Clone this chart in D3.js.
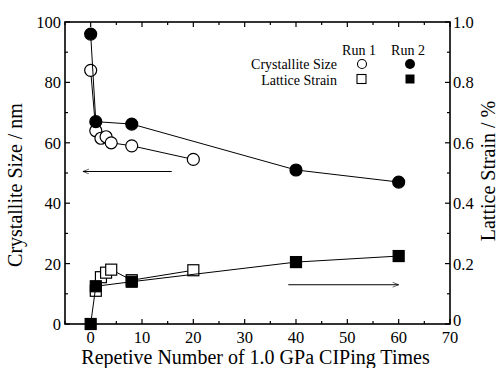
<!DOCTYPE html>
<html>
<head>
<meta charset="utf-8">
<script src="https://cdn.jsdelivr.net/npm/d3@7"></script>
<style>
  body { margin: 0; background: #fff; }
  svg, svg text { font-family: 'Liberation Serif', 'DejaVu Serif', 'Times New Roman', Times, serif !important; }
</style>
</head>
<body>
<div id="chart"></div>
<script>
// CIPing times
const run1Times = [0, 1, 2, 3, 4, 8, 20];
const run2Times = [0, 1, 8, 40, 60];

// crystallite size (nm)
const run1Size = [84, 64, 61.5, 62, 60, 59, 54.5];
const run2Size = [96, 67, 66.2, 51, 47];

// lattice strain (%)
const run1StrainTimes = [1, 2, 3, 4, 8, 20];
const run1Strain = [0.11, 0.155, 0.17, 0.18, 0.145, 0.178];
const run2Strain = [0, 0.125, 0.14, 0.205, 0.225];

const xTicks = [0, 10, 20, 30, 40, 50, 60, 70];
const sizeTicks = [0, 20, 40, 60, 80, 100];
const strainTicks = [0, 0.2, 0.4, 0.6, 0.8, 1.0];

const width = 500, height = 368;
const margin = { left: 65, right: 50, top: 22, bottom: 44 };

const svg = d3.select('#chart').append('svg')
  .attr('width', width)
  .attr('height', height);

const x = d3.scaleLinear().domain([-5, 70]).range([margin.left, width - margin.right]);
const yL = d3.scaleLinear().domain([0, 100]).range([height - margin.bottom, margin.top]);
const yR = d3.scaleLinear().domain([0, 1]).range([height - margin.bottom, margin.top]);

const x0 = margin.left, x1 = width - margin.right;
const y0 = height - margin.bottom, y1 = margin.top;

// inward ticks
function ticks(g, scale, values, len, orient) {
  values.forEach(v => {
    const p = scale(v);
    if (orient === 'bottom') g.append('line').attr('x1', p).attr('x2', p).attr('y1', y0).attr('y2', y0 - len);
    if (orient === 'top') g.append('line').attr('x1', p).attr('x2', p).attr('y1', y1).attr('y2', y1 + len);
    if (orient === 'left') g.append('line').attr('y1', p).attr('y2', p).attr('x1', x0).attr('x2', x0 + len);
    if (orient === 'right') g.append('line').attr('y1', p).attr('y2', p).attr('x1', x1).attr('x2', x1 - len);
  });
}

const axes = svg.append('g').attr('stroke', '#000').attr('stroke-width', 1.2);
const xMinor = d3.range(-5, 71, 5).filter(v => v % 10 !== 0);
['bottom', 'top'].forEach(o => { ticks(axes, x, xTicks, 5, o); ticks(axes, x, xMinor, 3, o); });
ticks(axes, yL, sizeTicks, 5, 'left');
ticks(axes, yL, d3.range(10, 100, 20), 3, 'left');
ticks(axes, yR, strainTicks, 5, 'right');
ticks(axes, yR, d3.range(0.1, 1, 0.2), 3, 'right');

svg.append('rect')
  .attr('x', x0).attr('y', y1)
  .attr('width', x1 - x0).attr('height', y0 - y1)
  .attr('fill', 'none').attr('stroke', '#000').attr('stroke-width', 1.6);

// tick labels
svg.append('g').selectAll('text').data(xTicks).join('text')
  .attr('x', d => x(d)).attr('y', y0 + 19)
  .attr('text-anchor', 'middle').attr('font-size', 16.5)
  .text(d => d);

svg.append('g').selectAll('text').data(sizeTicks).join('text')
  .attr('x', x0 - 4).attr('y', d => yL(d) + 6)
  .attr('text-anchor', 'end').attr('font-size', 16.5)
  .text(d => d);

svg.append('g').selectAll('text').data(strainTicks).join('text')
  .attr('x', x1 + 3).attr('y', d => yR(d) + (d === 0 ? 2 : 6))
  .attr('text-anchor', 'start').attr('font-size', 16.5)
  .text(d => d === 0 ? '0' : d.toFixed(1));

// axis titles
svg.append('text')
  .attr('x', (x0 + x1) / 2 - 2).attr('y', height - 4)
  .attr('text-anchor', 'middle').attr('font-size', 20)
  .text('Repetive Number of 1.0 GPa CIPing Times');

svg.append('text')
  .attr('transform', `translate(22,${(y0 + y1) / 2 + 12}) rotate(-90)`)
  .attr('text-anchor', 'middle').attr('font-size', 20)
  .text('Crystallite Size / nm');

svg.append('text')
  .attr('transform', `translate(495,${(y0 + y1) / 2 - 2}) rotate(-90)`)
  .attr('text-anchor', 'middle').attr('font-size', 20)
  .text('Lattice Strain / %');

// data lines
const lineL = d3.line().x(d => x(d[0])).y(d => yL(d[1]));
const lineR = d3.line().x(d => x(d[0])).y(d => yR(d[1]));
const plot = svg.append('g');

function series(times, vals, line, shape, fill) {
  const pts = times.map((t, i) => [t, vals[i]]);
  plot.append('path').datum(pts)
    .attr('d', line).attr('fill', 'none')
    .attr('stroke', '#000').attr('stroke-width', 1);
  const yS = line === lineL ? yL : yR;
  const g = plot.append('g');
  pts.forEach(p => {
    if (shape === 'circle') {
      g.append('circle').attr('cx', x(p[0])).attr('cy', yS(p[1])).attr('r', 6)
        .attr('fill', fill).attr('stroke', '#000').attr('stroke-width', 1.2);
    } else {
      g.append('rect').attr('x', x(p[0]) - 5.5).attr('y', yS(p[1]) - 5.5)
        .attr('width', 11).attr('height', 11)
        .attr('fill', fill).attr('stroke', '#000').attr('stroke-width', 1.2);
    }
  });
}

series(run1Times, run1Size, lineL, 'circle', '#fff');
series(run2Times, run2Size, lineL, 'circle', '#000');
series(run1StrainTimes, run1Strain, lineR, 'rect', '#fff');
series(run2Times, run2Strain, lineR, 'rect', '#000');

// arrows pointing at the axis each series uses
svg.append('defs').append('marker')
  .attr('id', 'head').attr('viewBox', '0 0 10 10')
  .attr('refX', 10).attr('refY', 5)
  .attr('markerWidth', 10).attr('markerHeight', 6)
  .attr('orient', 'auto-start-reverse')
  .append('path').attr('d', 'M0,1 L10,5 L0,9').attr('fill', 'none').attr('stroke', '#000').attr('stroke-width', 1);

svg.append('line')
  .attr('x1', x(15.8)).attr('x2', x(-1.5))
  .attr('y1', yL(50.5)).attr('y2', yL(50.5))
  .attr('stroke', '#000').attr('stroke-width', 1)
  .attr('marker-end', 'url(#head)');

svg.append('line')
  .attr('x1', x(38.5)).attr('x2', x(60))
  .attr('y1', yR(0.13)).attr('y2', yR(0.13))
  .attr('stroke', '#000').attr('stroke-width', 1)
  .attr('marker-end', 'url(#head)');

// legend
const leg = svg.append('g').attr('font-size', 14);
leg.append('text').attr('x', 359).attr('y', 55).attr('text-anchor', 'middle').text('Run 1');
leg.append('text').attr('x', 408).attr('y', 55).attr('text-anchor', 'middle').text('Run 2');
leg.append('text').attr('x', 337).attr('y', 69).attr('text-anchor', 'end').text('Crystallite Size');
leg.append('text').attr('x', 337).attr('y', 85).attr('text-anchor', 'end').text('Lattice Strain');
leg.append('circle').attr('cx', 362).attr('cy', 64).attr('r', 4.5).attr('fill', '#fff').attr('stroke', '#000').attr('stroke-width', 1.1);
leg.append('circle').attr('cx', 410).attr('cy', 64).attr('r', 5).attr('fill', '#000');
leg.append('rect').attr('x', 357).attr('y', 74.5).attr('width', 9).attr('height', 9).attr('fill', '#fff').attr('stroke', '#000').attr('stroke-width', 1.1);
leg.append('rect').attr('x', 405.5).attr('y', 74.5).attr('width', 9).attr('height', 9).attr('fill', '#000');
</script>
</body>
</html>
